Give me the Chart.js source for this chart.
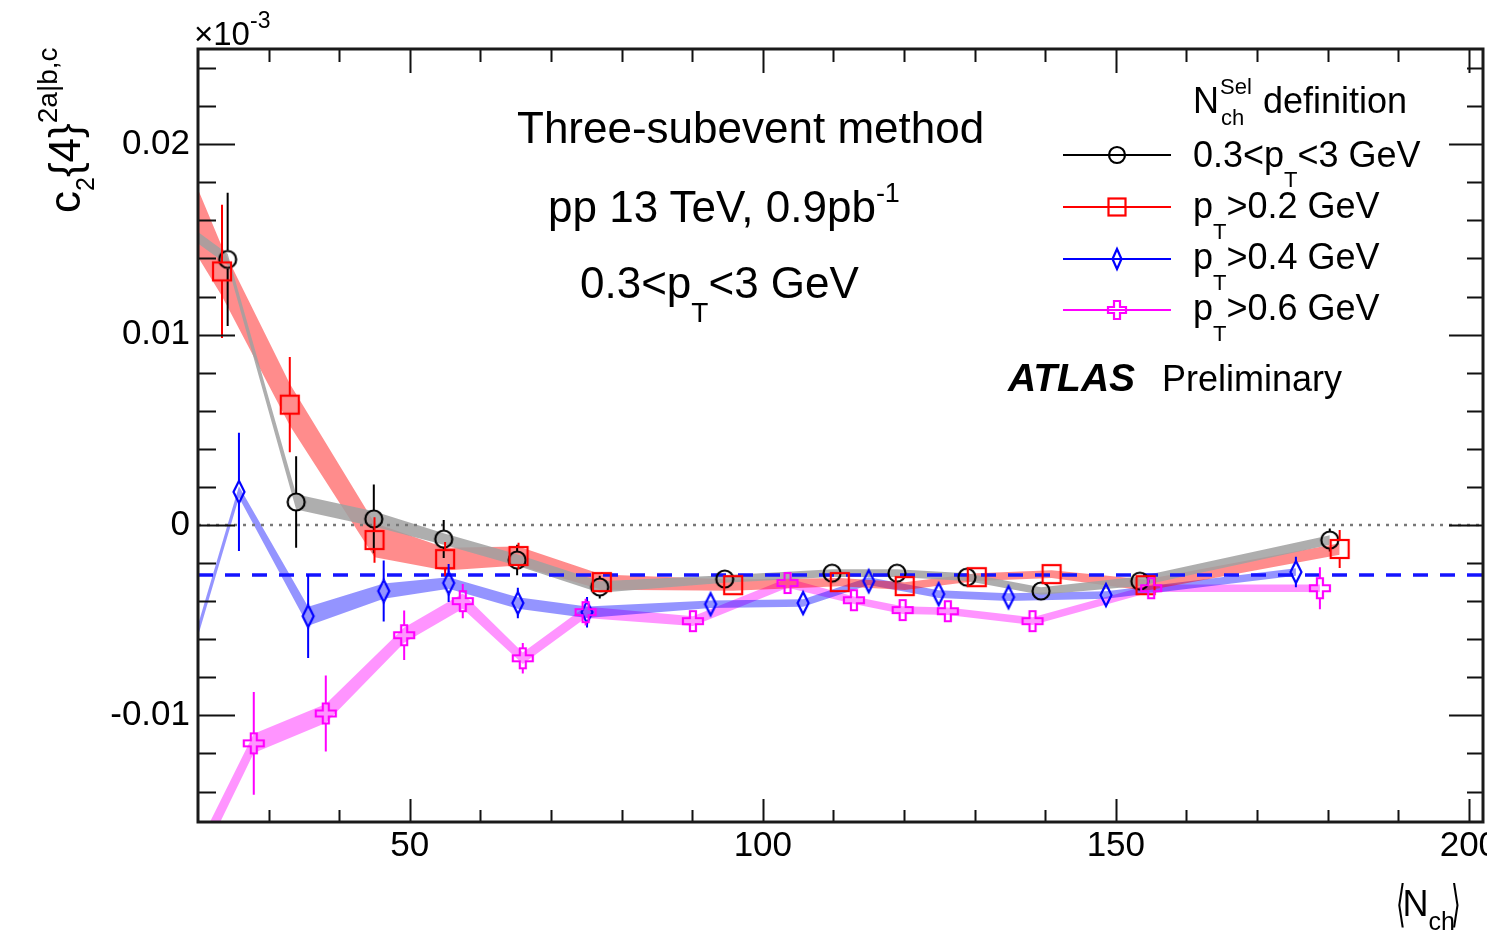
<!DOCTYPE html>
<html>
<head>
<meta charset="utf-8">
<script src="https://cdn.jsdelivr.net/npm/chart.js@4.4.1/dist/chart.umd.min.js"></script>
<style>
html,body{margin:0;padding:0;background:#fff;overflow:hidden;width:1487px;height:937px;}
#wrap{position:absolute;left:0;top:0;width:1530px;height:937px;}
.t{position:absolute;white-space:nowrap;color:#000;font-family:"Liberation Sans",Arial,Helvetica,sans-serif;}
.r{position:relative;}
</style>
</head>
<body>
<div id="wrap"><canvas id="c" width="1530" height="937"></canvas></div>

<!-- y axis title -->
<div class="t" style="left:43px;top:213px;font-size:44px;line-height:44px;transform-origin:0 0;transform:rotate(-90deg);">c<span class="r" style="font-size:25px;top:14px;">2</span>{4}<span class="r" style="font-size:28px;top:-23px;">2a|b,c</span></div>
<!-- x10^-3 -->
<div class="t" style="left:194px;top:17px;font-size:33px;line-height:33px;">×10<span class="r" style="font-size:23px;top:-17px;">-3</span></div>
<!-- x axis title -->
<div class="t" style="left:1397px;top:881px;font-size:36px;line-height:36px;"><span class="r" style="font-family:'DejaVu Sans';font-size:50px;top:5px;display:inline-block;transform:scaleX(0.5);margin:0 -8px 0 -6px;">⟨</span>N<span class="r" style="font-size:25px;top:14px;">ch</span><span class="r" style="font-family:'DejaVu Sans';font-size:50px;top:5px;display:inline-block;transform:scaleX(0.5);margin:0 -8px 0 -9px;">⟩</span></div>

<!-- annotation text -->
<div class="t" style="left:517px;top:106px;font-size:44px;line-height:44px;">Three-subevent method</div>
<div class="t" style="left:548px;top:185px;font-size:44px;line-height:44px;">pp 13 TeV, 0.9pb<span class="r" style="font-size:27px;top:-20px;">-1</span></div>
<div class="t" style="left:580px;top:261px;font-size:44px;line-height:44px;">0.3&lt;p<span class="r" style="font-size:28px;top:24px;">T</span>&lt;3 GeV</div>

<!-- legend -->
<svg style="position:absolute;left:1040px;top:130px;" width="160" height="200" viewBox="1040 130 160 200">
  <line x1="1063" y1="155" x2="1171" y2="155" stroke="#000" stroke-width="2"/>
  <circle cx="1117" cy="155" r="8" fill="none" stroke="#000" stroke-width="2.2"/>
  <line x1="1063" y1="207" x2="1171" y2="207" stroke="#ff0000" stroke-width="2"/>
  <rect x="1108.5" y="198.5" width="17" height="17" fill="none" stroke="#ff0000" stroke-width="2.2"/>
  <line x1="1063" y1="259" x2="1171" y2="259" stroke="#0000ff" stroke-width="2"/>
  <polygon points="1117,249 1121.5,259 1117,269 1112.5,259" fill="none" stroke="#0000ff" stroke-width="2.2"/>
  <line x1="1063" y1="310" x2="1171" y2="310" stroke="#ff00ff" stroke-width="2"/>
  <polygon points="1114,301 1120,301 1120,307 1126,307 1126,313 1120,313 1120,319 1114,319 1114,313 1108,313 1108,307 1114,307" fill="none" stroke="#ff00ff" stroke-width="2.2"/>
</svg>
<div class="t" style="left:1193px;top:83px;font-size:36px;line-height:36px;">N</div>
<div class="t" style="left:1220px;top:76px;font-size:22px;line-height:22px;">Sel</div>
<div class="t" style="left:1221px;top:107px;font-size:22px;line-height:22px;">ch</div>
<div class="t" style="left:1263px;top:83px;font-size:36px;line-height:36px;">definition</div>
<div class="t" style="left:1193px;top:137px;font-size:36px;line-height:36px;">0.3&lt;p<span class="r" style="font-size:22px;top:20px;">T</span>&lt;3 GeV</div>
<div class="t" style="left:1193px;top:188px;font-size:36px;line-height:36px;">p<span class="r" style="font-size:22px;top:21px;">T</span>&gt;0.2 GeV</div>
<div class="t" style="left:1193px;top:239px;font-size:36px;line-height:36px;">p<span class="r" style="font-size:22px;top:21px;">T</span>&gt;0.4 GeV</div>
<div class="t" style="left:1193px;top:290px;font-size:36px;line-height:36px;">p<span class="r" style="font-size:22px;top:21px;">T</span>&gt;0.6 GeV</div>
<div class="t" style="left:1008px;top:358px;font-size:39px;line-height:39px;font-weight:bold;font-style:italic;">ATLAS</div>
<div class="t" style="left:1162px;top:361px;font-size:36px;line-height:36px;">Preliminary</div>

<script>
// ---------------- data ----------------
// axis ranges and ticks
const xMin = 20, xMax = 202;
const yMin = -0.0156, yMax = 0.025;
const xTickValues = [30, 40, 50, 60, 70, 80, 90, 100, 110, 120, 130, 140, 150, 160, 170, 180, 190, 200];
const xLabelTicks = [50, 100, 150, 200];
const yTickValues = [-0.014, -0.012, -0.01, -0.008, -0.006, -0.004, -0.002, 0, 0.002, 0.004, 0.006, 0.008, 0.01, 0.012, 0.014, 0.016, 0.018, 0.02, 0.022, 0.024];
const yLabelTicks = [-0.01, 0, 0.01, 0.02];
const dashedLevel = -0.00263;   // blue dashed reference line
const zeroLevel = 0;            // dotted line

// Nch^Sel : 0.3<pT<3 GeV (black circles)
const nchA  = [17.0, 24.2, 33.9, 44.9, 54.8, 65.2, 76.9, 94.6, 109.8, 119.0, 128.9, 139.4, 153.4, 180.3];
const c24A  = [0.0159, 0.01395, 0.00121, 0.00032, -0.00074, -0.00184, -0.00326, -0.00284, -0.00253, -0.00253, -0.00274, -0.00347, -0.00295, -0.00079];
const statA = [0, 0.0035, 0.0024, 0.0018, 0.0010, 0.0008, 0.0006, 0.0003, 0.0002, 0.0002, 0.0002, 0.0003, 0.0003, 0.0006];
const sysA  = [0.0003, 0.0003, 0.0004, 0.0004, 0.0003, 0.0003, 0.0003, 0.0002, 0.0002, 0.0002, 0.0002, 0.0002, 0.00025, 0.00025];

// pT>0.2 GeV (red squares)
const nchB  = [17.0, 23.4, 33.0, 45.0, 55.0, 65.4, 77.2, 95.8, 110.9, 120.1, 130.3, 140.9, 154.2, 181.7];
const c24B  = [0.0181, 0.01332, 0.00632, -0.00079, -0.00179, -0.00163, -0.0030, -0.00316, -0.0030, -0.00321, -0.00274, -0.00258, -0.00316, -0.00126];
const statB = [0, 0.0035, 0.0025, 0.0012, 0.0009, 0.0007, 0.0005, 0.0003, 0.0003, 0.0003, 0.0003, 0.0003, 0.0004, 0.0010];
const sysB  = [0.0022, 0.0013, 0.0011, 0.0009, 0.0006, 0.0005, 0.0004, 0.0003, 0.00022, 0.0002, 0.0002, 0.0002, 0.0003, 0.0003];

// pT>0.4 GeV (blue diamonds)
const nchC  = [17.0, 25.8, 35.6, 46.3, 55.5, 65.3, 75.1, 92.6, 105.7, 115.0, 124.9, 134.8, 148.6, 175.5];
const c24C  = [-0.0093, 0.00174, -0.00479, -0.00347, -0.00305, -0.0041, -0.00458, -0.00416, -0.0041, -0.00295, -0.00363, -0.00379, -0.00368, -0.00247];
const statC = [0, 0.0031, 0.0022, 0.0016, 0.0010, 0.0008, 0.0008, 0.0004, 0.0004, 0.0004, 0.0004, 0.0004, 0.0004, 0.0008];
const sysC  = [0.0003, 0.0003, 0.0005, 0.0004, 0.0003, 0.0003, 0.0003, 0.0002, 0.0002, 0.0002, 0.0002, 0.0002, 0.0002, 0.0002];

// pT>0.6 GeV (magenta crosses)
const nchD  = [17.0, 27.9, 38.1, 49.2, 57.5, 66.0, 74.9, 90.1, 103.5, 112.9, 119.8, 126.2, 138.2, 155.0, 178.9];
const c24D  = [-0.0197, -0.01147, -0.0099, -0.00579, -0.0040, -0.0070, -0.00458, -0.00505, -0.00305, -0.00395, -0.00447, -0.00453, -0.00505, -0.00332, -0.00332];
const statD = [0, 0.0027, 0.0020, 0.0013, 0.0009, 0.0008, 0.0007, 0.0004, 0.0004, 0.0004, 0.0004, 0.0004, 0.0004, 0.0005, 0.0011];
const sysD  = [0.0006, 0.0005, 0.0005, 0.0004, 0.0004, 0.0003, 0.0003, 0.00025, 0.00025, 0.0002, 0.0002, 0.0002, 0.0002, 0.0002, 0.0002];

// ---------------- marker shapes ----------------
function mk(w, h, draw) {
  const cv = document.createElement('canvas'); cv.width = w; cv.height = h;
  const g = cv.getContext('2d'); g.lineWidth = 2.2; draw(g); return cv;
}
const mCircle = mk(24, 24, g => { g.strokeStyle = '#000'; g.beginPath(); g.arc(12, 12, 8.5, 0, Math.PI * 2); g.stroke(); });
const mSquare = mk(24, 24, g => { g.strokeStyle = '#ff0000'; g.strokeRect(3, 3, 18, 18); });
const mDiamond = mk(18, 28, g => { g.strokeStyle = '#0000ff'; g.beginPath(); g.moveTo(9, 3); g.lineTo(14.5, 14); g.lineTo(9, 25); g.lineTo(3.5, 14); g.closePath(); g.stroke(); });
const mCross = mk(26, 26, g => {
  g.strokeStyle = '#ff00ff'; g.beginPath();
  const p = [[10,3],[16,3],[16,10],[23,10],[23,16],[16,16],[16,23],[10,23],[10,16],[3,16],[3,10],[10,10]];
  g.moveTo(p[0][0], p[0][1]); p.slice(1).forEach(q => g.lineTo(q[0], q[1])); g.closePath(); g.stroke();
});

const series = [
  { x: nchA, y: c24A, err: statA, sys: sysA, color: '#000000', band: 'rgba(160,160,160,0.85)', marker: mCircle,  gap: 9 },
  { x: nchB, y: c24B, err: statB, sys: sysB, color: '#ff0000', band: 'rgba(255,0,0,0.45)',     marker: mSquare,  gap: 9 },
  { x: nchC, y: c24C, err: statC, sys: sysC, color: '#0000ff', band: 'rgba(0,0,255,0.42)',     marker: mDiamond, gap: 11 },
  { x: nchD, y: c24D, err: statD, sys: sysD, color: '#ff00ff', band: 'rgba(255,0,255,0.42)',   marker: mCross,   gap: 10 }
];

const datasets = [];
// markers (drawn on top)
series.forEach((s, i) => {
  datasets.push({
    seriesIndex: i, showLine: false, order: 0 + (3 - i) * 0.1,
    data: s.x.map((v, k) => ({ x: v, y: s.y[k] })),
    pointStyle: s.marker, pointRadius: 10, pointHoverRadius: 10,
    borderColor: s.color, backgroundColor: s.color, clip: 0
  });
});
// reference lines
datasets.push({
  order: 5, data: [{ x: xMin, y: dashedLevel }, { x: xMax, y: dashedLevel }],
  borderColor: '#1414ff', borderWidth: 3.5, borderDash: [15, 12], pointRadius: 0, fill: false, clip: 0
});
datasets.push({
  order: 6, data: [{ x: xMin, y: zeroLevel }, { x: xMax, y: zeroLevel }],
  borderColor: '#777777', borderWidth: 2.5, borderDash: [3, 6], pointRadius: 0, fill: false, clip: 0
});
// systematic bands (upper + lower filled between)
series.forEach((s, i) => {
  datasets.push({
    order: 10 + i * 0.1,
    data: s.x.map((v, k) => ({ x: v, y: s.y[k] + s.sys[k] })),
    borderColor: 'transparent', borderWidth: 0, pointRadius: 0, fill: false, clip: 0
  });
  datasets.push({
    order: 10 + i * 0.1,
    data: s.x.map((v, k) => ({ x: v, y: s.y[k] - s.sys[k] })),
    borderColor: 'transparent', borderWidth: 0, pointRadius: 0, fill: '-1', backgroundColor: s.band, clip: 0
  });
});

// ---------------- plugins ----------------
const errorBars = {
  id: 'errorBars',
  beforeDatasetDraw(chart, args) {
    const ds = chart.data.datasets[args.index];
    if (ds.seriesIndex === undefined) return;
    const s = series[ds.seriesIndex];
    const { ctx, chartArea: a } = chart;
    const xs = chart.scales.x, ys = chart.scales.y;
    ctx.save();
    ctx.beginPath(); ctx.rect(a.left, a.top, a.right - a.left, a.bottom - a.top); ctx.clip();
    ctx.strokeStyle = s.color; ctx.lineWidth = 2;
    s.x.forEach((xv, k) => {
      const e = s.err[k]; if (!e) return;
      const px = xs.getPixelForValue(xv), py = ys.getPixelForValue(s.y[k]);
      const top = ys.getPixelForValue(s.y[k] + e), bot = ys.getPixelForValue(s.y[k] - e);
      ctx.beginPath();
      if (top < py - s.gap) { ctx.moveTo(px, top); ctx.lineTo(px, py - s.gap); }
      if (bot > py + s.gap) { ctx.moveTo(px, py + s.gap); ctx.lineTo(px, bot); }
      ctx.stroke();
    });
    ctx.restore();
  }
};

const frame = {
  id: 'frame',
  afterDraw(chart) {
    const { ctx, chartArea: a } = chart;
    const xs = chart.scales.x, ys = chart.scales.y;
    ctx.save();
    ctx.strokeStyle = '#111'; ctx.lineWidth = 2;
    xTickValues.forEach(v => {
      const px = Math.round(xs.getPixelForValue(v)) + 0.5;
      const major = xLabelTicks.includes(v);
      const lb = major ? 23 : 12, lt = major ? 24 : 13;
      ctx.beginPath();
      ctx.moveTo(px, a.bottom); ctx.lineTo(px, a.bottom - lb);
      ctx.moveTo(px, a.top); ctx.lineTo(px, a.top + lt);
      ctx.stroke();
    });
    yTickValues.forEach(v => {
      const py = Math.round(ys.getPixelForValue(v)) + 0.5;
      const major = yLabelTicks.some(t => Math.abs(t - v) < 1e-9);
      const ll = major ? 37 : 18, lr = major ? 34 : 16;
      ctx.beginPath();
      ctx.moveTo(a.left, py); ctx.lineTo(a.left + ll, py);
      ctx.moveTo(a.right, py); ctx.lineTo(a.right - lr, py);
      ctx.stroke();
    });
    ctx.lineWidth = 3; ctx.strokeStyle = '#1a1a1a';
    ctx.strokeRect(a.left, a.top, a.right - a.left, a.bottom - a.top);
    ctx.restore();
  }
};

const tickFont = { family: '"Liberation Sans", Arial, Helvetica, sans-serif', size: 35 };

new Chart(document.getElementById('c'), {
  type: 'line',
  data: { datasets },
  options: {
    responsive: false, animation: false, devicePixelRatio: 1,
    layout: { padding: { left: 0, top: 49, right: 47, bottom: 0 } },
    elements: { line: { tension: 0 } },
    plugins: { legend: { display: false }, tooltip: { enabled: false } },
    events: [],
    scales: {
      x: {
        type: 'linear', min: xMin, max: xMax,
        afterFit(s) { s.height = 115; },
        afterBuildTicks(s) { s.ticks = xTickValues.map(v => ({ value: v })); },
        ticks: {
          autoSkip: false, maxRotation: 0, minRotation: 0, padding: 3, color: '#000', font: tickFont,
          callback: v => (xLabelTicks.includes(v) ? String(v) : '')
        },
        grid: { display: false, drawTicks: false },
        border: { display: false }
      },
      y: {
        type: 'linear', min: yMin, max: yMax,
        afterFit(s) { s.width = 198; },
        afterBuildTicks(s) { s.ticks = yTickValues.map(v => ({ value: v })); },
        ticks: {
          autoSkip: false, padding: 8, color: '#000', font: tickFont,
          callback: v => {
            const m = yLabelTicks.find(t => Math.abs(t - v) < 1e-9);
            return m === undefined ? '' : String(m);
          }
        },
        grid: { display: false, drawTicks: false },
        border: { display: false }
      }
    }
  },
  plugins: [errorBars, frame]
});
</script>
</body>
</html>
